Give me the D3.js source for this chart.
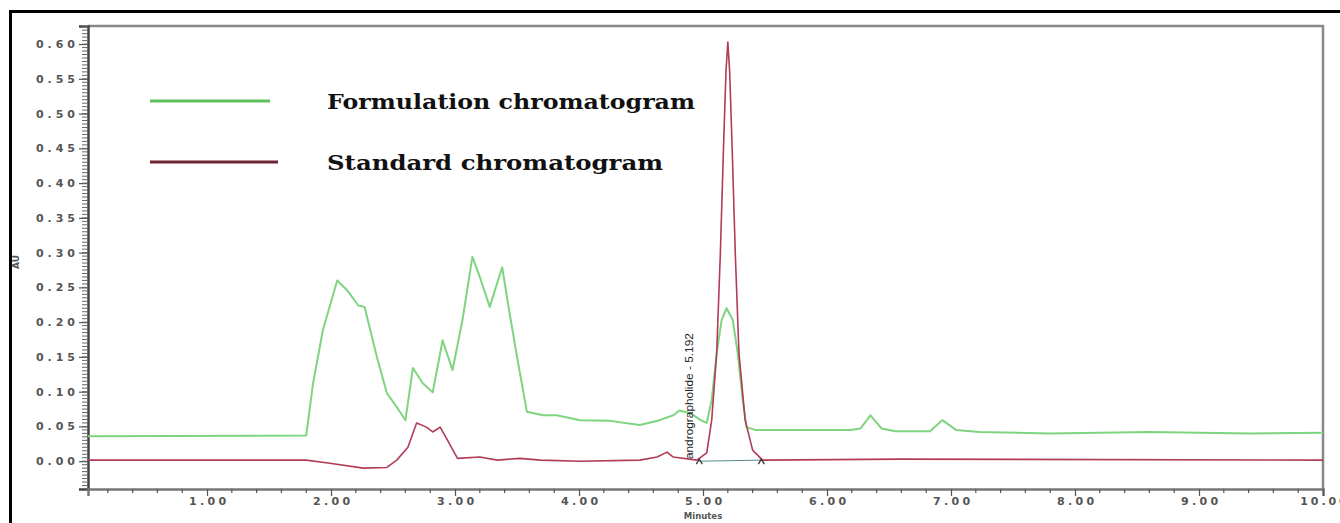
<!DOCTYPE html>
<html lang="en">
<head>
<meta charset="UTF-8">
<title>Chromatogram</title>
<script src="https://cdn.jsdelivr.net/npm/d3@7"></script>
<style>
    body { margin: 0; background: #fff; }
    svg { display: block; }
    .tick-label { font-family: "DejaVu Sans", sans-serif; font-weight: bold; font-size: 11px; fill: #555; }
    .legend-text { font-family: "DejaVu Serif", serif; font-weight: bold; font-size: 21px; fill: #111; }
</style>
</head>
<body>
<svg id="chart" width="1340" height="523"></svg>
<script>
// ---- data (minutes, AU) ----
const formulationTimes = [0.04, 1.80, 1.855, 1.935, 2.05, 2.13, 2.22, 2.27, 2.37, 2.45, 2.53, 2.60, 2.66, 2.74, 2.82, 2.90, 2.98, 3.06, 3.14, 3.20, 3.28, 3.38, 3.44, 3.50, 3.58, 3.71, 3.82, 4.01, 4.25, 4.49, 4.65, 4.76, 4.81, 4.90, 4.98, 5.03, 5.07, 5.11, 5.15, 5.19, 5.24, 5.28, 5.32, 5.35, 5.42, 5.78, 6.19, 6.27, 6.35, 6.44, 6.55, 6.83, 6.93, 7.04, 7.23, 7.80, 8.60, 9.41, 10.0];
const formulationValues = [0.036, 0.037, 0.112, 0.189, 0.260, 0.246, 0.224, 0.222, 0.150, 0.098, 0.078, 0.059, 0.134, 0.112, 0.099, 0.174, 0.131, 0.203, 0.294, 0.265, 0.222, 0.279, 0.213, 0.150, 0.071, 0.066, 0.066, 0.059, 0.058, 0.052, 0.059, 0.066, 0.073, 0.069, 0.059, 0.055, 0.088, 0.155, 0.203, 0.220, 0.203, 0.155, 0.088, 0.049, 0.045, 0.045, 0.045, 0.047, 0.066, 0.047, 0.043, 0.043, 0.059, 0.045, 0.042, 0.040, 0.042, 0.040, 0.041];

const standardTimes = [0.04, 1.80, 1.99, 2.26, 2.45, 2.53, 2.62, 2.69, 2.77, 2.82, 2.88, 2.94, 3.02, 3.20, 3.34, 3.52, 3.69, 4.01, 4.49, 4.63, 4.71, 4.76, 4.95, 5.03, 5.07, 5.11, 5.14, 5.165, 5.185, 5.20, 5.215, 5.235, 5.26, 5.29, 5.34, 5.40, 5.48, 6.59, 10.0];
const standardValues = [0.0015, 0.0015, -0.003, -0.010, -0.009, 0.0015, 0.020, 0.055, 0.049, 0.042, 0.049, 0.030, 0.004, 0.006, 0.0015, 0.004, 0.0015, 0.0, 0.0015, 0.006, 0.013, 0.006, 0.0015, 0.012, 0.059, 0.155, 0.300, 0.450, 0.560, 0.603, 0.560, 0.450, 0.300, 0.155, 0.059, 0.016, 0.0015, 0.003, 0.0015];

const yTickLabels = ["0.00", "0.05", "0.10", "0.15", "0.20", "0.25", "0.30", "0.35", "0.40", "0.45", "0.50", "0.55", "0.60"];
const xTickLabels = ["1.00", "2.00", "3.00", "4.00", "5.00", "6.00", "7.00", "8.00", "9.00", "10.00"];
const seriesNames = ["Formulation chromatogram", "Standard chromatogram"];
const peakLabel = "andrographolide - 5.192";
const peakTime = 4.89;
const integrationMarks = [4.97, 5.47];

const svg = d3.select("#chart");
const plotLeft = 88, plotRight = 1323, plotTop = 26, plotBottom = 489;

const x = d3.scaleLinear().domain([0.04, 10.0]).range([plotLeft, plotRight]);
const y = d3.scaleLinear().domain([-0.040, 0.626]).range([plotBottom, plotTop]);

// outer black frame
svg.append("rect")
    .attr("x", 10.5).attr("y", 11.5).attr("width", 1340).attr("height", 530)
    .attr("fill", "none").attr("stroke", "#000").attr("stroke-width", 3);

// plot frame (top / right)
svg.append("path")
    .attr("d", `M${plotLeft},${plotTop}H${plotRight}V${plotBottom}`)
    .attr("fill", "none").attr("stroke", "#888").attr("stroke-width", 2.5);

// y axis: major labels + dense minor ruler
const yAxis = d3.axisLeft(y)
    .tickValues(yTickLabels.map(Number))
    .tickSize(9)
    .tickFormat((d, i) => yTickLabels[i]);
const gy = svg.append("g").attr("transform", `translate(${plotLeft},0)`).call(yAxis);
gy.select(".domain").attr("stroke", "#444").attr("stroke-width", 2.5);
gy.selectAll(".tick line").attr("stroke", "#555").attr("stroke-width", 1.2);
gy.selectAll(".tick text").attr("class", "tick-label").attr("x", -13)
    .attr("textLength", 39).attr("lengthAdjust", "spacing");

const yMinor = d3.range(-0.035, 0.6251, 0.005);
gy.append("g").selectAll("line").data(yMinor).join("line")
    .attr("x1", -6).attr("x2", 0)
    .attr("y1", d => y(d)).attr("y2", d => y(d))
    .attr("stroke", "#666").attr("stroke-width", 1);

// x axis
const xAxis = d3.axisBottom(x)
    .tickValues(xTickLabels.map(Number))
    .tickSize(7)
    .tickFormat((d, i) => xTickLabels[i]);
const gx = svg.append("g").attr("transform", `translate(0,${plotBottom})`).call(xAxis);
gx.select(".domain").attr("stroke", "#777").attr("stroke-width", 2.5);
gx.selectAll(".tick line").attr("stroke", "#555").attr("stroke-width", 1.2);
gx.selectAll(".tick text").attr("class", "tick-label").attr("y", 8)
    .attr("textLength", (d, i) => xTickLabels[i].length * 9.3).attr("lengthAdjust", "spacing");

const xMinor = d3.range(0.2, 10, 0.2).filter(d => Math.abs(d - Math.round(d)) > 0.01);
gx.append("g").selectAll("line").data(xMinor).join("line")
    .attr("x1", d => x(d)).attr("x2", d => x(d))
    .attr("y1", 0).attr("y2", 4)
    .attr("stroke", "#555").attr("stroke-width", 1.2);

svg.append("text")
    .attr("x", x(5.0)).attr("y", 519)
    .attr("text-anchor", "middle")
    .attr("class", "tick-label").style("font-size", "8.5px").style("fill", "#555")
    .text("Minutes");

svg.append("text")
    .attr("transform", "translate(19,262) rotate(-90)")
    .attr("text-anchor", "middle")
    .style("font-family", "DejaVu Sans").style("font-size", "9px").style("font-weight", "bold").style("fill", "#555")
    .text("AU");

// lines
const line = d3.line().x(d => x(d[0])).y(d => y(d[1]));
const formulation = formulationTimes.map((t, i) => [t, formulationValues[i]]);
const standard = standardTimes.map((t, i) => [t, standardValues[i]]);

svg.append("path").datum(formulation)
    .attr("d", line).attr("fill", "none")
    .attr("stroke", "#7fd47f").attr("stroke-width", 2)
    .attr("stroke-linejoin", "round");

svg.append("path").datum(standard)
    .attr("d", line).attr("fill", "none")
    .attr("stroke", "#b03c55").attr("stroke-width", 1.6)
    .attr("stroke-linejoin", "round");

// integration baseline + marks
svg.append("line")
    .attr("x1", x(integrationMarks[0])).attr("x2", x(integrationMarks[1]))
    .attr("y1", y(0.0)).attr("y2", y(0.0015))
    .attr("stroke", "#5a8a8a").attr("stroke-width", 1);
svg.append("g").selectAll("path").data(integrationMarks).join("path")
    .attr("d", d => `M${x(d) - 3},${y(0) + 3}L${x(d)},${y(0) - 2}L${x(d) + 3},${y(0) + 3}`)
    .attr("fill", "none").attr("stroke", "#333").attr("stroke-width", 1.3);

// peak annotation
svg.append("text")
    .attr("transform", `translate(${x(peakTime) + 4},${y(0.003)}) rotate(-90)`)
    .attr("textLength", 126).attr("lengthAdjust", "spacingAndGlyphs")
    .style("font-family", "Liberation Sans Narrow, Liberation Sans, sans-serif")
    .style("font-size", "11px").style("fill", "#222")
    .text(peakLabel);

// legend
const legendColors = ["#5cc05c", "#6e2430"];
const legendY = [101, 162];
const legendLen = [368, 336];
const legend = svg.append("g");
seriesNames.forEach((name, i) => {
    legend.append("line")
        .attr("x1", 150).attr("x2", i === 0 ? 270 : 278)
        .attr("y1", legendY[i]).attr("y2", legendY[i])
        .attr("stroke", legendColors[i]).attr("stroke-width", 3);
    legend.append("text")
        .attr("x", 327).attr("y", legendY[i] + 8)
        .attr("class", "legend-text")
        .attr("textLength", legendLen[i]).attr("lengthAdjust", "spacingAndGlyphs")
        .text(name);
});
</script>
</body>
</html>
